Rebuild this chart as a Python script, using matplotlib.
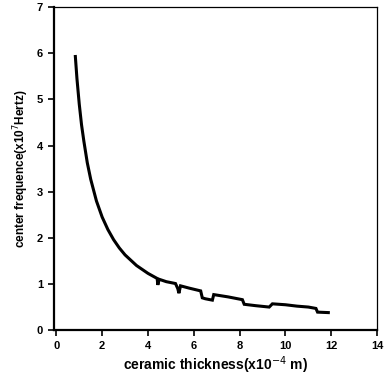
import matplotlib
matplotlib.use("Agg")
import matplotlib.pyplot as plt

# ceramic thickness (x1e-4 m)
thickness = [0.83, 0.9, 1.0, 1.1, 1.2, 1.35, 1.5, 1.75, 2.0, 2.25, 2.5, 2.75,
             3.0, 3.5, 4.0, 4.4, 4.43, 4.46, 4.5, 4.8, 5.2, 5.3, 5.35, 5.42,
             5.8, 6.3, 6.37, 6.5, 6.81, 6.87, 7.5, 8.12, 8.2, 8.7, 9.29, 9.43,
             10.0, 10.5, 11.0, 11.33, 11.4, 11.87]
# center frequency (x1e7 Hz)
frequency = [5.93, 5.45, 4.9, 4.45, 4.1, 3.63, 3.27, 2.8, 2.45, 2.18, 1.96, 1.78,
             1.63, 1.4, 1.23, 1.12, 0.98, 1.05, 1.10, 1.05, 1.01, 0.9, 0.80, 0.96,
             0.91, 0.85, 0.70, 0.68, 0.65, 0.77, 0.72, 0.66, 0.56, 0.53, 0.50, 0.57,
             0.55, 0.52, 0.50, 0.47, 0.39, 0.38]

x_ticks = [0, 2, 4, 6, 8, 10, 12, 14]
y_ticks = [0, 1, 2, 3, 4, 5, 6, 7]

plt.rcParams['font.family'] = ['Liberation Sans', 'DejaVu Sans']

fig = plt.figure(figsize=(3.86, 3.76), dpi=100)
ax = fig.add_axes([0.140, 0.122, 0.837, 0.859])

ax.plot(thickness, frequency, color='black', linewidth=2.2,
        solid_joinstyle='miter')

ax.set_xlim(-0.1, 14)
ax.set_ylim(0, 7)
ax.set_xticks(x_ticks)
ax.set_yticks(y_ticks)
ax.set_xticklabels([str(v) for v in x_ticks], fontsize=8, fontweight='bold')
ax.set_yticklabels([str(v) for v in y_ticks], fontsize=8, fontweight='bold')
ax.tick_params(direction='out', length=4, width=1.2, pad=4)

for s in ['left', 'bottom']:
    ax.spines[s].set_linewidth(1.6)
for s in ['right', 'top']:
    ax.spines[s].set_linewidth(0.9)

ax.set_xlabel('ceramic thickness(x10$^{-4}$ m)', fontsize=10, fontweight='bold',
              labelpad=2)
ax.set_ylabel('center frequence(x10$^{7}$Hertz)', fontsize=8.5, fontweight='bold',
              labelpad=4)

fig.savefig('out.png', dpi=100)
